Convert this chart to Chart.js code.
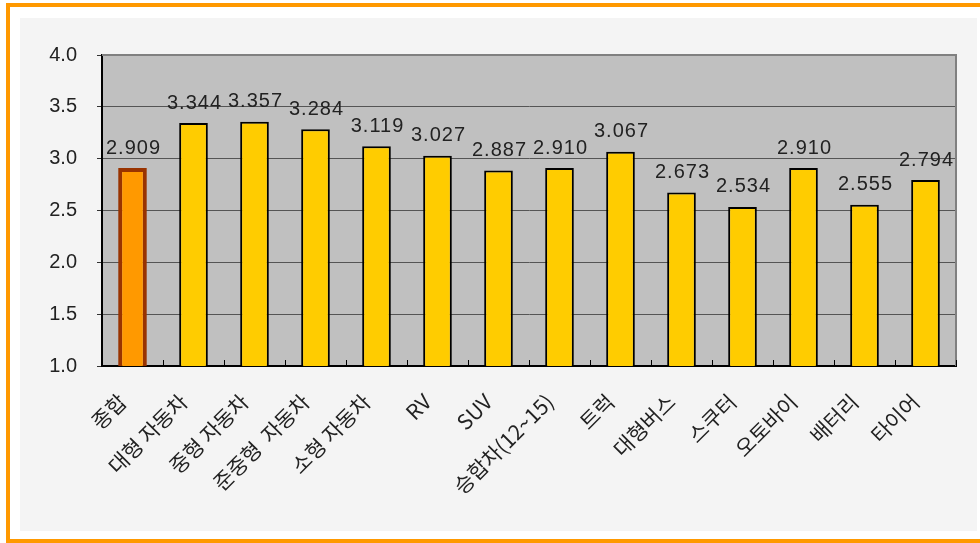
<!DOCTYPE html>
<html>
<head>
<meta charset="utf-8">
<script src="https://cdn.jsdelivr.net/npm/chart.js@4/dist/chart.umd.min.js"></script>
<style>
    html, body { margin: 0; overflow: hidden; background: #fff; }
    body { width: 980px; height: 543px; position: relative; }
    .edge { position: absolute; background: #ff9900; }
    #panel { position: absolute; left: 20px; top: 18px; width: 957px; height: 513px; background: #f4f4f4; }
    #chart { display: block; }
    #rightGap { position: absolute; left: 977px; top: 7px; width: 40px; height: 532px; background: #fff; z-index: 5; }
</style>
</head>
<body>
<div class="edge" style="left:6px; top:3px; width:974px; height:4px;"></div>
<div class="edge" style="left:6px; top:3px; width:4px; height:540px;"></div>
<div class="edge" style="left:6px; top:539px; width:974px; height:4px;"></div>
<div id="panel"><canvas id="chart" width="957" height="513"></canvas></div>
<div id="rightGap"></div>
<script>
const categories = ["종합", "대형 자동차", "중형 자동차", "준중형  자동차", "소형 자동차", "RV", "SUV",
    "승합차(12~15)", "트럭", "대형버스", "스쿠터", "오토바이", "배터리", "타이어"];
const scores = [2.909, 3.344, 3.357, 3.284, 3.119, 3.027, 2.887, 2.910, 3.067, 2.673, 2.534, 2.910, 2.555, 2.794];
const yTicks = [1.0, 1.5, 2.0, 2.5, 3.0, 3.5, 4.0];

const fillColors = scores.map((v, i) => i === 0 ? "#ff9900" : "#ffcc00");
const edgeColors = scores.map((v, i) => i === 0 ? "#993300" : "#000000");
const edgeWidths = scores.map((v, i) => i === 0 ? 4 : 2);

// gray plot background + frame + small x ticks
const plotFrame = {
    id: "plotFrame",
    beforeDraw(chart) {
        const { ctx, chartArea: a } = chart;
        ctx.save();
        ctx.fillStyle = "#c0c0c0";
        ctx.fillRect(a.left, a.top, a.right - a.left, a.bottom - a.top);
        ctx.restore();
    },
    afterDraw(chart) {
        const { ctx, chartArea: a } = chart;
        const x = chart.scales.x;
        ctx.save();
        ctx.strokeStyle = "#808080";
        ctx.lineWidth = 2;
        ctx.beginPath();
        ctx.moveTo(a.left, a.top);
        ctx.lineTo(a.right, a.top);
        ctx.lineTo(a.right, a.bottom);
        ctx.stroke();
        // category boundary ticks pointing up
        ctx.strokeStyle = "#000";
        ctx.lineWidth = 1;
        const half = (x.getPixelForValue(1) - x.getPixelForValue(0)) / 2;
        for (let i = 0; i < categories.length; i++) {
            const px = Math.round(x.getPixelForValue(i) + half) + 0.5;
            ctx.beginPath();
            ctx.moveTo(px, a.bottom);
            ctx.lineTo(px, a.bottom - 6);
            ctx.stroke();
        }
        ctx.restore();
    }
};

const valueLabels = {
    id: "valueLabels",
    afterDatasetsDraw(chart) {
        const { ctx } = chart;
        const meta = chart.getDatasetMeta(0);
        ctx.save();
        ctx.font = "20px 'Liberation Sans'";
        ctx.letterSpacing = "1px";
        ctx.fillStyle = "#222";
        ctx.textAlign = "center";
        ctx.textBaseline = "bottom";
        meta.data.forEach((bar, i) => {
            ctx.fillText(scores[i].toFixed(3), bar.x + 1, bar.y - 10);
        });
        ctx.restore();
    }
};

new Chart(document.getElementById("chart"), {
    type: "bar",
    data: {
        labels: categories,
        datasets: [{
            data: scores,
            backgroundColor: fillColors,
            borderColor: edgeColors,
            borderWidth: edgeWidths,
            borderSkipped: false,
            barPercentage: 0.47,
            categoryPercentage: 1
        }]
    },
    options: {
        responsive: false,
        animation: false,
        layout: { padding: { top: 37, right: 21, left: 0, bottom: 0 } },
        plugins: { legend: { display: false }, tooltip: { enabled: false } },
        scales: {
            x: {
                afterFit: s => { s.height = 165; },
                grid: { display: false },
                border: { color: "#000", width: 2 },
                ticks: {
                    autoSkip: false,
                    minRotation: 45,
                    maxRotation: 45,
                    padding: 15,
                    labelOffset: -10,
                    color: "#222",
                    font: { family: "'Noto Sans CJK KR'", size: 21 }
                }
            },
            y: {
                min: 1,
                max: 4,
                afterFit: s => { s.width = 82; },
                afterBuildTicks: s => { s.ticks = yTicks.map(v => ({ value: v })); },
                grid: { color: "#555", lineWidth: 1, tickLength: 5, tickColor: "#333" },
                border: { color: "#000", width: 2 },
                ticks: {
                    padding: 20,
                    color: "#222",
                    font: { family: "'Liberation Sans'", size: 20 },
                    callback: v => Number(v).toFixed(1)
                }
            }
        }
    },
    plugins: [plotFrame, valueLabels]
});
</script>
</body>
</html>
